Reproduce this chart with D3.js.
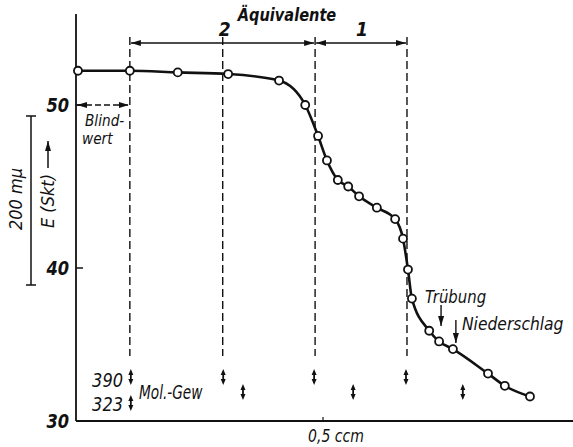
<!DOCTYPE html>
<html>
<head>
<meta charset="utf-8">
<script src="https://cdn.jsdelivr.net/npm/d3@7"></script>
<style>
  body { margin: 0; background: #fff; }
  text { font-family: "Liberation Sans Narrow", "DejaVu Sans Condensed", sans-serif; font-style: italic; fill: #111; }
</style>
</head>
<body>
<div id="chart"></div>
<script>
// titration curve: extinction vs. added volume
const xCcm = [0.004, 0.109, 0.206, 0.308, 0.411, 0.464, 0.490, 0.508, 0.530, 0.551, 0.573,
              0.609, 0.646, 0.662, 0.672, 0.680, 0.715, 0.735, 0.763, 0.834, 0.868, 0.919];
const eSkt = [52.1, 52.1, 52.0, 51.9, 51.5, 50.0, 48.1, 46.6, 45.4, 45.0, 44.4,
              43.7, 43.0, 41.8, 39.9, 38.0, 35.9, 35.2, 34.7, 33.1, 32.3, 31.6];

const yTicks = [30, 40, 50];
const xTicks = [0.5];
const xTickLabels = ["0,5 ccm"];

// blank value + equivalence points (ccm)
const equivLines = [0.109, 0.297, 0.484, 0.670];
const equivLabels = ["2", "1"];
// molecular weight markers
const mol390 = [0.111, 0.298, 0.482, 0.668];
const mol323 = [0.111, 0.338, 0.561, 0.783];
const trueb = 0.739, nieder = 0.769;

const W = 573, H = 447;
const x = d3.scaleLinear().domain([0, 1]).range([76, 570]);
const y = d3.scaleLinear().domain([30, 40, 50]).range([421, 268, 105]);

const svg = d3.select("#chart").append("svg").attr("width", W).attr("height", H);

const defs = svg.append("defs");
defs.append("marker").attr("id", "ah")
  .attr("viewBox", "0 0 10 6").attr("refX", 10).attr("refY", 3)
  .attr("markerWidth", 10).attr("markerHeight", 6).attr("markerUnits", "userSpaceOnUse")
  .attr("orient", "auto-start-reverse")
  .append("path").attr("d", "M0,0 L10,3 L0,6 Z").attr("fill", "#111");

// plain label helper (sx squeezes text a bit horizontally)
function label(txt, lx, ly, size, anchor = "start", sx = 1, bold = false) {
  return svg.append("text").text(txt)
    .attr("transform", `translate(${lx},${ly}) scale(${sx},1)`)
    .attr("dy", "0.35em").attr("text-anchor", anchor)
    .style("font-size", size + "px").style("font-weight", bold ? "bold" : "normal");
}

// axes lines
svg.append("line").attr("x1", x(0)).attr("x2", x(0)).attr("y1", 14).attr("y2", y(30))
  .attr("stroke", "#111").attr("stroke-width", 1.8);
svg.append("line").attr("x1", x(0)).attr("x2", W).attr("y1", y(30)).attr("y2", y(30))
  .attr("stroke", "#111").attr("stroke-width", 1.8);

// y ticks
svg.selectAll(".yt").data(yTicks.filter(d => d > 30)).join("line")
  .attr("x1", x(0)).attr("x2", x(0) + 7).attr("y1", d => y(d)).attr("y2", d => y(d))
  .attr("stroke", "#111").attr("stroke-width", 1.5);
yTicks.forEach(d => label(d, 69, y(d), 19, "end", 0.95, true));

// x tick
svg.selectAll(".xt").data(xTicks).join("line")
  .attr("x1", d => x(d)).attr("x2", d => x(d)).attr("y1", y(30) - 4).attr("y2", y(30))
  .attr("stroke", "#111").attr("stroke-width", 1.2);
xTicks.forEach((d, i) => label(xTickLabels[i], x(d) + 13, 436, 17, "middle", 0.92));

// dashed equivalence lines
svg.selectAll(".eq").data(equivLines).join("line")
  .attr("x1", d => x(d)).attr("x2", d => x(d)).attr("y1", 37).attr("y2", 356)
  .attr("stroke", "#111").attr("stroke-width", 1.4).attr("stroke-dasharray", "8,4");

// top double arrows: blank line -> eq. 1 line, eq. 1 -> eq. 2
const arrowY = 43;
[[equivLines[0], equivLines[2]], [equivLines[2], equivLines[3]]].forEach(([a, b]) => {
  svg.append("line").attr("x1", x(a) + 1).attr("x2", x(b) - 1).attr("y1", arrowY).attr("y2", arrowY)
    .attr("stroke", "#111").attr("stroke-width", 1.5)
    .attr("marker-start", "url(#ah)").attr("marker-end", "url(#ah)");
});
label(equivLabels[0], x(equivLines[1]) + 2, 29, 19, "middle", 1, true);
label(equivLabels[1], (x(equivLines[2]) + x(equivLines[3])) / 2 + 1, 29, 19, "middle", 1, true);
label("Äquivalente", 287, 15, 18, "middle", 0.9, true);

// Blindwert
svg.append("line").attr("x1", x(0) + 1).attr("x2", x(equivLines[0]) - 1)
  .attr("y1", y(50)).attr("y2", y(50))
  .attr("stroke", "#111").attr("stroke-width", 1.4).attr("stroke-dasharray", "6,3")
  .attr("marker-start", "url(#ah)").attr("marker-end", "url(#ah)");
label("Blind-", 85, 120, 16, "start", 0.95);
label("wert", 82, 138, 16, "start", 0.95);

// curve
const pts = xCcm.map((v, i) => [v, eSkt[i]]);
svg.append("path").datum(pts)
  .attr("d", d3.line().x(d => x(d[0])).y(d => y(d[1])).curve(d3.curveMonotoneX))
  .attr("fill", "none").attr("stroke", "#111").attr("stroke-width", 2.6);
svg.selectAll(".pt").data(pts).join("circle")
  .attr("cx", d => x(d[0])).attr("cy", d => y(d[1])).attr("r", 4)
  .attr("fill", "#fff").attr("stroke", "#111").attr("stroke-width", 1.8);

// small double arrows for molecular weights
function dbl(cx, cy) {
  svg.append("path")
    .attr("d", `M${cx},${cy - 8} L${cx - 2.5},${cy - 2} L${cx + 2.5},${cy - 2} Z M${cx},${cy + 8} L${cx - 2.5},${cy + 2} L${cx + 2.5},${cy + 2} Z`)
    .attr("fill", "#111");
  svg.append("line").attr("x1", cx).attr("x2", cx).attr("y1", cy - 4).attr("y2", cy + 4)
    .attr("stroke", "#111").attr("stroke-width", 1.8);
}
mol390.forEach(d => dbl(x(d), 377));
mol323.forEach((d, i) => dbl(x(d), i === 0 ? 403 : 392));
label("390", 123, 380, 20, "end", 0.9);
label("323", 123, 404, 20, "end", 0.9);
label("Mol.-Gew", 139, 392, 19, "start", 0.8);

// Trübung / Niederschlag
label("Trübung", 425, 297, 18, "start", 0.92);
svg.append("line").attr("x1", x(trueb)).attr("x2", x(trueb)).attr("y1", 305).attr("y2", 326)
  .attr("stroke", "#111").attr("stroke-width", 1.4).attr("marker-end", "url(#ah)");
label("Niederschlag", 462, 324, 18, "start", 0.96);
svg.append("line").attr("x1", x(nieder)).attr("x2", x(nieder)).attr("y1", 320).attr("y2", 343)
  .attr("stroke", "#111").attr("stroke-width", 1.4).attr("marker-end", "url(#ah)");

// y axis label and scale bar
svg.append("text").text("E (Skt)")
  .attr("transform", "translate(48,201) rotate(-90)")
  .attr("dy", "0.35em").attr("text-anchor", "middle").style("font-size", "18px");
svg.append("line").attr("x1", 48).attr("x2", 48).attr("y1", 168).attr("y2", 141)
  .attr("stroke", "#111").attr("stroke-width", 1.5).attr("marker-end", "url(#ah)");
svg.append("text").text("200 mμ")
  .attr("transform", "translate(16,199) rotate(-90)")
  .attr("dy", "0.35em").attr("text-anchor", "middle").style("font-size", "18px");
svg.append("line").attr("x1", 31).attr("x2", 31).attr("y1", 116).attr("y2", 285)
  .attr("stroke", "#111").attr("stroke-width", 1.5);
[116, 285].forEach(v => svg.append("line").attr("x1", 26).attr("x2", 36).attr("y1", v).attr("y2", v)
  .attr("stroke", "#111").attr("stroke-width", 1.5));
</script>
</body>
</html>
